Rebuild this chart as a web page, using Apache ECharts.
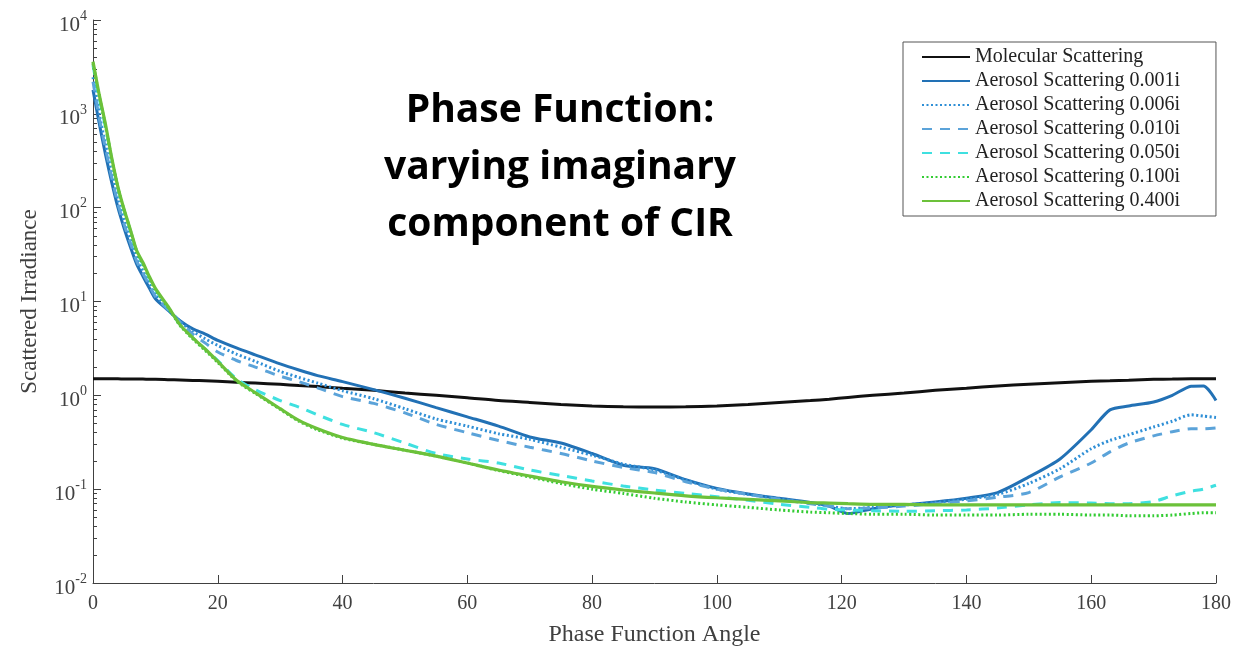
<!DOCTYPE html>
<html>
<head>
<meta charset="utf-8">
<script src="https://cdn.jsdelivr.net/npm/echarts@6/dist/echarts.min.js"></script>
<style>
html,body{margin:0;padding:0;background:#fff;}
#chart{width:1255px;height:647px;}
</style>
</head>
<body>
<div id="chart"></div>
<script>
// ---- data ----
const angles = [0,1,2,3,4,5,6,7,8,9,10,12,14,16,18,20,23,26,30,33,36,40,45,50,55,60,65,70,75,80,85,90,95,100,105,110,115,118,121,125,130,135,140,145,150,155,160,163,166,170,173,176,178,180];

const molecular = [1.50,1.50,1.50,1.50,1.50,1.49,1.49,1.49,1.49,1.48,1.48,1.47,1.46,1.44,1.43,1.41,1.38,1.35,1.31,1.27,1.24,1.19,1.13,1.06,1.00,0.94,0.88,0.84,0.80,0.77,0.755,0.75,0.755,0.77,0.80,0.84,0.88,0.91,0.95,1.00,1.06,1.13,1.19,1.26,1.31,1.36,1.41,1.43,1.45,1.48,1.49,1.50,1.50,1.50];

const aer001 = [1800,790,370,186,100,60,38,25,18.6,14,10.7,8.1,6.2,5.1,4.5,3.85,3.2,2.7,2.16,1.86,1.62,1.40,1.15,0.93,0.74,0.59,0.47,0.36,0.31,0.24,0.18,0.165,0.126,0.102,0.089,0.080,0.072,0.066,0.055,0.062,0.068,0.073,0.080,0.092,0.135,0.21,0.43,0.70,0.77,0.85,1.0,1.25,1.26,0.88];

const aer006 = [2450,1000,470,230,120,72,45,29,21,15.5,11.8,8.3,6.1,4.8,4.0,3.4,2.75,2.3,1.8,1.55,1.35,1.12,0.92,0.72,0.56,0.47,0.39,0.34,0.28,0.23,0.185,0.16,0.125,0.10,0.088,0.079,0.071,0.066,0.062,0.064,0.068,0.072,0.078,0.088,0.115,0.165,0.27,0.33,0.38,0.46,0.53,0.62,0.60,0.58];

const aer010 = [2200,900,430,210,110,66,42,27,20,15,11.3,8.2,6.0,4.5,3.6,2.9,2.35,2.0,1.6,1.4,1.2,0.97,0.82,0.65,0.49,0.40,0.33,0.28,0.24,0.20,0.17,0.15,0.12,0.10,0.088,0.078,0.070,0.066,0.062,0.063,0.066,0.070,0.075,0.082,0.092,0.135,0.19,0.25,0.31,0.37,0.41,0.44,0.44,0.45];

const aer050 = [3300,1450,720,330,160,92,56,34,25,18,13.4,8.7,5.6,4.1,3.1,2.35,1.5,1.15,0.88,0.75,0.62,0.49,0.40,0.31,0.24,0.21,0.19,0.16,0.14,0.122,0.108,0.098,0.090,0.083,0.076,0.069,0.064,0.061,0.060,0.059,0.058,0.059,0.060,0.063,0.068,0.072,0.071,0.070,0.070,0.074,0.085,0.095,0.10,0.11];

const aer100 = [3450,1550,740,330,162,93,57,34,25,18,13.4,8.7,5.5,4.0,3.0,2.25,1.42,1.05,0.71,0.53,0.43,0.35,0.30,0.26,0.225,0.19,0.158,0.135,0.115,0.100,0.090,0.080,0.073,0.068,0.064,0.060,0.057,0.056,0.055,0.054,0.054,0.053,0.053,0.053,0.054,0.054,0.053,0.053,0.052,0.052,0.053,0.055,0.056,0.056];

const aer400 = [3600,1600,775,340,166,95,58,35,26,18.6,13.8,8.9,5.6,4.1,3.1,2.3,1.45,1.07,0.72,0.54,0.44,0.355,0.30,0.26,0.225,0.19,0.16,0.138,0.12,0.107,0.098,0.091,0.085,0.081,0.078,0.075,0.072,0.071,0.070,0.069,0.069,0.068,0.068,0.068,0.068,0.068,0.068,0.068,0.068,0.068,0.068,0.068,0.068,0.068];

const seriesNames = ['Molecular Scattering','Aerosol Scattering 0.001i','Aerosol Scattering 0.006i','Aerosol Scattering 0.010i','Aerosol Scattering 0.050i','Aerosol Scattering 0.100i','Aerosol Scattering 0.400i'];
const yMinorTicks = [];
for (let e = -2; e < 4; e++) for (let m = 2; m <= 9; m++) yMinorTicks.push(m * Math.pow(10, e));

// ---- styles ----
const styles = [
  {color:'#111111', type:'solid', width:3},
  {color:'#2271b5', type:'solid', width:3},
  {color:'#2f8fd6', type:[2,2.5], width:3},
  {color:'#5ba3d9', type:[10,8], width:3},
  {color:'#3fe0e0', type:[10,8], width:3},
  {color:'#33cc33', type:[2,2.5], width:3},
  {color:'#6cc13a', type:'solid', width:3.2}
];
const valueSets = [molecular, aer001, aer006, aer010, aer050, aer100, aer400];

const series = valueSets.map((vals, i) => ({
  name: seriesNames[i],
  type: 'line',
  data: angles.map((a, k) => [a, vals[k]]),
  showSymbol: false,
  symbol: 'none',
  smooth: 0.25,
  lineStyle: {color: styles[i].color, type: styles[i].type, width: styles[i].width},
  itemStyle: {color: styles[i].color},
  z: 2 + i
}));

const chart = echarts.init(document.getElementById('chart'), null, {renderer:'canvas'});
chart.setOption({
  animation: false,
  backgroundColor: '#ffffff',
  grid: {left: 93, right: 39, top: 20, bottom: 64, containLabel: false, outerBoundsMode: 'none'},
  xAxis: {
    type: 'value', min: 0, max: 180, interval: 20,
    name: 'Phase Function Angle', nameLocation: 'middle', nameGap: 40,
    nameTextStyle: {fontFamily: 'Liberation Serif', fontSize: 24, color: '#404040'},
    axisLine: {show: true, lineStyle: {color: '#404040', width: 1}},
    axisTick: {show: true, inside: true, length: 8, lineStyle: {color: '#404040'}},
    axisLabel: {fontFamily: 'Liberation Serif', fontSize: 20, color: '#404040', margin: 11},
    splitLine: {show: false}
  },
  yAxis: [{
    type: 'log', logBase: 10, min: 0.01, max: 10000, interval: 1,
    name: 'Scattered Irradiance', nameLocation: 'middle', nameGap: 52,
    nameTextStyle: {fontFamily: 'Liberation Serif', fontSize: 23, color: '#404040'},
    axisLine: {show: true, lineStyle: {color: '#404040', width: 1}},
    axisTick: {show: true, inside: true, length: 8, lineStyle: {color: '#404040'}},
    axisLabel: {
      margin: 6,
      formatter: v => '{b|10}{e|' + Math.round(Math.log10(v)) + '}',
      rich: {
        b: {fontFamily: 'Liberation Serif', fontSize: 21, color: '#404040', lineHeight: 22, padding: [10,0,0,0]},
        e: {fontFamily: 'Liberation Serif', fontSize: 14, color: '#404040', lineHeight: 14, verticalAlign: 'top'}
      }
    },
    splitLine: {show: false}
  }, {
    type: 'log', logBase: 10, min: 0.01, max: 10000, position: 'left',
    axisLine: {show: false},
    axisLabel: {show: false},
    axisTick: {show: true, inside: true, length: 4, customValues: yMinorTicks, lineStyle: {color: '#404040'}},
    splitLine: {show: false}
  }],
  legend: {
    orient: 'vertical', left: 903, top: 42,
    data: seriesNames,
    itemWidth: 48, itemHeight: 14, itemGap: 4,
    padding: [5, 36, 5, 18],
    itemStyle: {opacity: 0},
    backgroundColor: '#ffffff', borderColor: '#555555', borderWidth: 1,
    textStyle: {fontFamily: 'Liberation Serif', fontSize: 20, lineHeight: 20, color: '#222222', padding: [0,0,0,0]},
    selectedMode: false
  },
  graphic: [{
    type: 'text', z: 100,
    style: {
      x: 560, y: 82,
      text: 'Phase Function:\nvarying imaginary\ncomponent of CIR',
      textAlign: 'center',
      fontFamily: 'Open Sans', fontWeight: 'bold', fontSize: 39, lineHeight: 57,
      fill: '#000000'
    }
  }],
  series: series
});
</script>
</body>
</html>
